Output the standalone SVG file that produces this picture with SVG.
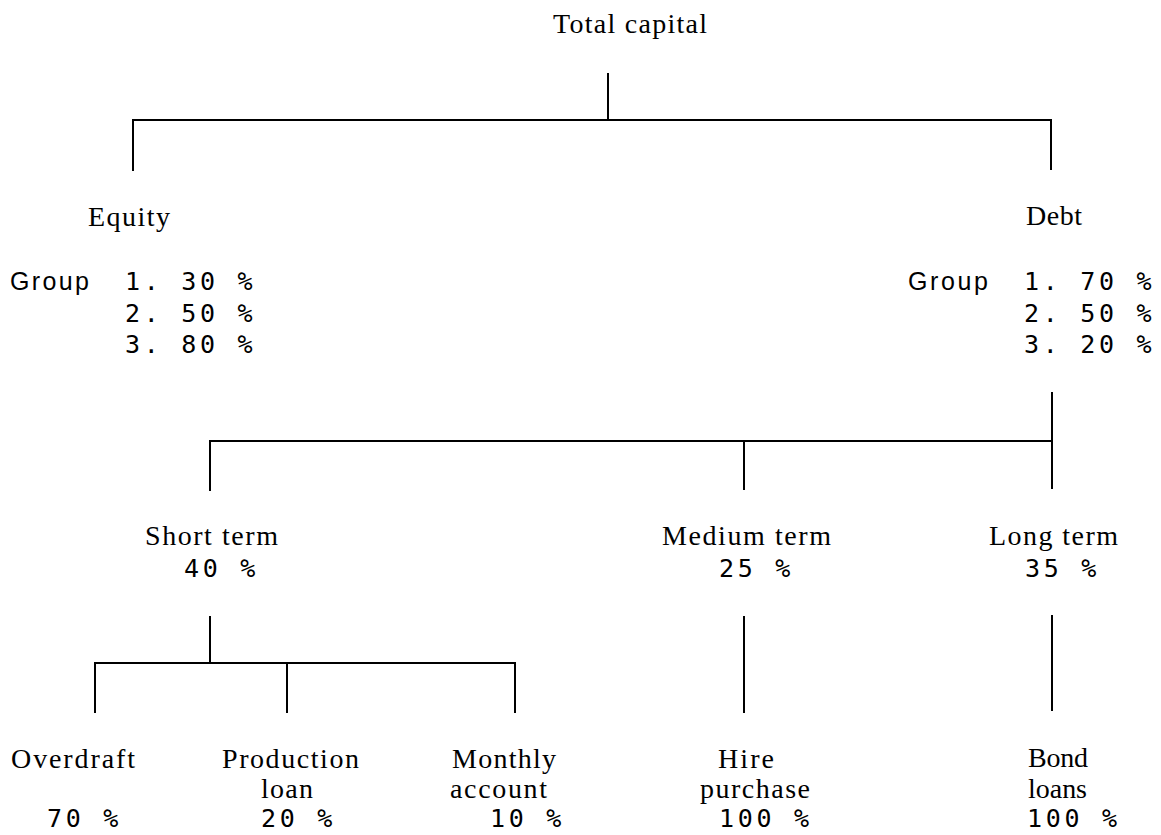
<svg xmlns="http://www.w3.org/2000/svg" width="1161" height="835" viewBox="0 0 1161 835">
<style>
.s{font-family:"Liberation Serif","Times New Roman",serif;font-size:28px;fill:#000}
.g{font-family:"Liberation Sans",Arial,sans-serif;font-size:25px;fill:#000}
.m{font-family:"DejaVu Sans Mono","Liberation Mono",monospace;font-size:25px;letter-spacing:3.7px;fill:#000;white-space:pre}
.c line{stroke:#000;stroke-width:2;stroke-linecap:square}
</style>
<rect width="1161" height="835" fill="#fff"/>
<g class="c" id="connectors">
<line x1="608" y1="74" x2="608" y2="120"/>
<line x1="133" y1="120" x2="1051" y2="120"/>
<line x1="133" y1="120" x2="133" y2="170"/>
<line x1="1051" y1="120" x2="1051" y2="169"/>
<line x1="1052" y1="393" x2="1052" y2="488"/>
<line x1="210" y1="441" x2="1052" y2="441"/>
<line x1="210" y1="441" x2="210" y2="490"/>
<line x1="744" y1="441" x2="744" y2="489"/>
<line x1="210" y1="617" x2="210" y2="663"/>
<line x1="95" y1="663" x2="515" y2="663"/>
<line x1="95" y1="663" x2="95" y2="712"/>
<line x1="287" y1="663" x2="287" y2="712"/>
<line x1="515" y1="663" x2="515" y2="712"/>
<line x1="744" y1="617" x2="744" y2="712"/>
<line x1="1052" y1="616" x2="1052" y2="710"/>
</g>
<g id="total-capital"><text class="s" x="553" y="33" textLength="154" lengthAdjust="spacing">Total capital</text></g>
<g id="equity">
<text class="s" x="88" y="226" textLength="82" lengthAdjust="spacing">Equity</text>
<text class="g" x="10" y="290" textLength="79" lengthAdjust="spacing">Group</text>
<text class="m" x="125" y="290">1. 30 %</text>
<text class="m" x="125" y="322">2. 50 %</text>
<text class="m" x="125" y="353">3. 80 %</text>
</g>
<g id="debt">
<text class="s" x="1026" y="225" textLength="56" lengthAdjust="spacing">Debt</text>
<text class="g" x="908" y="290" textLength="80" lengthAdjust="spacing">Group</text>
<text class="m" x="1024" y="290">1. 70 %</text>
<text class="m" x="1024" y="322">2. 50 %</text>
<text class="m" x="1024" y="353">3. 20 %</text>
</g>
<g id="short-term">
<text class="s" x="145" y="545" textLength="133" lengthAdjust="spacing">Short term</text>
<text class="m" x="184" y="577">40 %</text>
</g>
<g id="medium-term">
<text class="s" x="662" y="545" textLength="169" lengthAdjust="spacing">Medium term</text>
<text class="m" x="719" y="577">25 %</text>
</g>
<g id="long-term">
<text class="s" x="989" y="545" textLength="129" lengthAdjust="spacing">Long term</text>
<text class="m" x="1025" y="577">35 %</text>
</g>
<g id="overdraft">
<text class="s" x="11" y="768" textLength="124" lengthAdjust="spacing">Overdraft</text>
<text class="m" x="47" y="827">70 %</text>
</g>
<g id="production-loan">
<text class="s" x="222" y="768" textLength="137" lengthAdjust="spacing">Production</text>
<text class="s" x="261" y="798" textLength="52" lengthAdjust="spacing">loan</text>
<text class="m" x="261" y="827">20 %</text>
</g>
<g id="monthly-account">
<text class="s" x="452" y="768" textLength="104" lengthAdjust="spacing">Monthly</text>
<text class="s" x="450" y="798" textLength="97" lengthAdjust="spacing">account</text>
<text class="m" x="490" y="827">10 %</text>
</g>
<g id="hire-purchase">
<text class="s" x="718" y="768" textLength="56" lengthAdjust="spacing">Hire</text>
<text class="s" x="700" y="798" textLength="110" lengthAdjust="spacing">purchase</text>
<text class="m" x="719" y="827">100 %</text>
</g>
<g id="bond-loans">
<text class="s" x="1028" y="767" textLength="60" lengthAdjust="spacing">Bond</text>
<text class="s" x="1028" y="798" textLength="59" lengthAdjust="spacing">loans</text>
<text class="m" x="1027" y="827">100 %</text>
</g>
</svg>
